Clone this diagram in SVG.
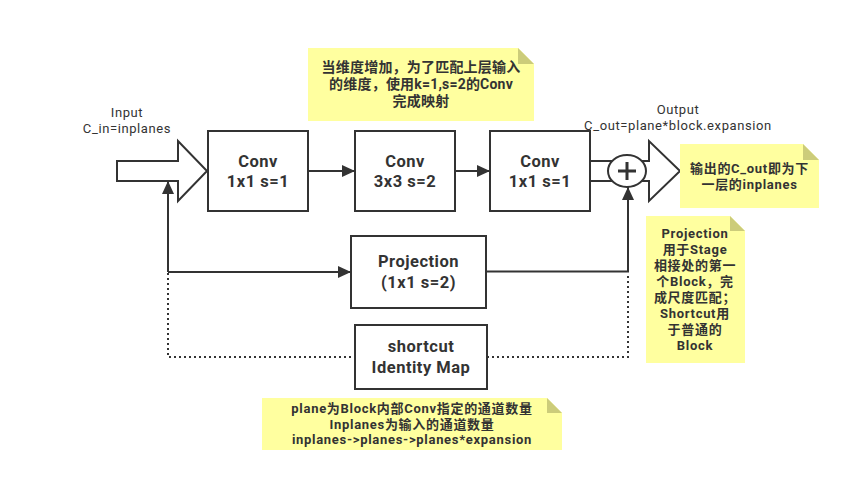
<svg xmlns="http://www.w3.org/2000/svg" width="851" height="481" viewBox="0 0 851 481">
<style>
.box{fill:#fff;stroke:#333;stroke-width:2}
.lbl{font-family:Roboto,"Noto Sans CJK SC",sans-serif;font-weight:bold;font-size:16.5px;letter-spacing:0.5px;fill:#333;text-anchor:middle}
.plain{font-family:Roboto,"Noto Sans CJK SC",sans-serif;font-size:13px;letter-spacing:0.6px;fill:#333;text-anchor:middle}
.note{fill:#ffff9f}
.fold{fill:#cccc7a}
.nt{font-family:Roboto,"Noto Sans CJK SC",sans-serif;font-weight:bold;font-size:13px;letter-spacing:0.7px;fill:#333;text-anchor:middle}
.nt14{font-size:14px;letter-spacing:0.2px}
.ln{fill:none;stroke:#333;stroke-width:2}
.dot{fill:none;stroke:#333;stroke-width:2;stroke-dasharray:2 3}
</style>
<defs>
<marker id="ah" markerUnits="userSpaceOnUse" markerWidth="14" markerHeight="12" refX="13" refY="6" orient="auto">
<path d="M0,0 L13,6 L0,12 Z" fill="#333"/>
</marker>
</defs>
<rect width="851" height="481" fill="#fff"/>

<g id="input">
<polygon class="box" points="117,161 178,161 178,141 207,171 178,201 178,181 117,181"/>
<text class="plain" x="127" y="117">Input</text>
<text class="plain" x="127" y="133">C_in=inplanes</text>
</g>

<g id="output">
<polygon class="box" points="590,161 649,161 649,141 680,171 649,201 649,181 590,181"/>
<text class="plain" x="678" y="114">Output</text>
<text class="plain" x="678" y="130">C_out=plane*block.expansion</text>
</g>

<g id="conv1">
<rect class="box" x="208" y="131" width="100" height="80"/>
<text class="lbl" x="258" y="167">Conv</text>
<text class="lbl" x="258" y="187">1x1 s=1</text>
</g>

<g id="conv2">
<rect class="box" x="355" y="131" width="100" height="80"/>
<text class="lbl" x="405" y="167">Conv</text>
<text class="lbl" x="405" y="187">3x3 s=2</text>
</g>

<g id="conv3">
<rect class="box" x="490" y="131" width="100" height="80"/>
<text class="lbl" x="540" y="167">Conv</text>
<text class="lbl" x="540" y="187">1x1 s=1</text>
</g>

<g id="projection">
<rect class="box" x="351" y="236" width="135" height="72"/>
<text class="lbl" x="418.5" y="267">Projection</text>
<text class="lbl" x="418.5" y="288">(1x1 s=2)</text>
</g>

<g id="shortcut">
<rect class="box" x="355" y="325" width="132" height="64"/>
<text class="lbl" x="421" y="352">shortcut</text>
<text class="lbl" x="421" y="373">Identity Map</text>
</g>

<g id="connectors">
<line class="ln" x1="308" y1="171" x2="355" y2="171" marker-end="url(#ah)"/>
<line class="ln" x1="455" y1="171" x2="490" y2="171" marker-end="url(#ah)"/>
<path class="ln" d="M168,272 L168,181" marker-end="url(#ah)"/>
<path class="ln" d="M168,272 L351,272" marker-end="url(#ah)"/>
<path class="ln" d="M486,271.5 L628,271.5 L628,187" marker-end="url(#ah)"/>
<path class="dot" d="M168,273 L168,357 L355,357"/>
<path class="dot" d="M487,357 L628,357 L628,273"/>
</g>

<g id="add">
<ellipse class="box" cx="627" cy="171" rx="19" ry="16"/>
<path d="M618,171 H636 M627,162 V180" stroke="#333" stroke-width="3"/>
</g>

<g id="note-top">
<polygon class="note" points="308,48 518,48 534,64 534,121 308,121"/>
<polygon class="fold" points="518,48 534,64 518,64"/>
<text class="nt nt14" x="421" y="72">当维度增加，为了匹配上层输入</text>
<text class="nt nt14" x="421" y="89">的维度，使用k=1,s=2的Conv</text>
<text class="nt nt14" x="421" y="106">完成映射</text>
</g>

<g id="note-out">
<polygon class="note" points="680,144 803,144 819,160 819,208 680,208"/>
<polygon class="fold" points="803,144 819,160 803,160"/>
<text class="nt" x="749.5" y="173">输出的C_out即为下</text>
<text class="nt" x="749.5" y="189">一层的inplanes</text>
</g>

<g id="note-proj">
<polygon class="note" points="646,216 730,216 745,231 745,363 646,363"/>
<polygon class="fold" points="730,216 745,231 730,231"/>
<text class="nt" x="695" y="238">Projection</text>
<text class="nt" x="695" y="254">用于Stage</text>
<text class="nt" x="695" y="270">相接处的第一</text>
<text class="nt" x="695" y="286">个Block，完</text>
<text class="nt" x="695" y="302">成尺度匹配；</text>
<text class="nt" x="695" y="318">Shortcut用</text>
<text class="nt" x="695" y="334">于普通的</text>
<text class="nt" x="695" y="350">Block</text>
</g>

<g id="note-bottom">
<polygon class="note" points="262,398 547,398 562,413 562,450 262,450"/>
<polygon class="fold" points="547,398 562,413 547,413"/>
<text class="nt" x="412" y="413">plane为Block内部Conv指定的通道数量</text>
<text class="nt" x="412" y="428.5">Inplanes为输入的通道数量</text>
<text class="nt" x="412" y="444">inplanes-&gt;planes-&gt;planes*expansion</text>
</g>
</svg>
